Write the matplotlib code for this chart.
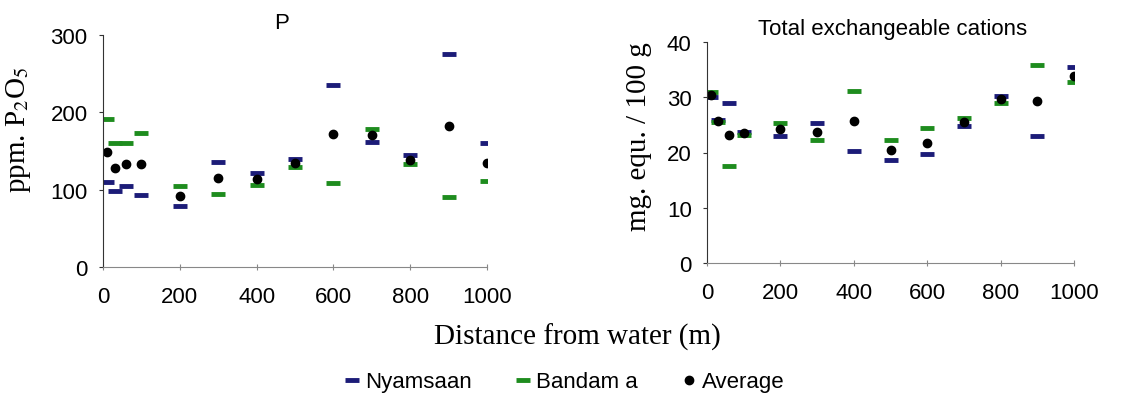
import numpy as np
import matplotlib.pyplot as plt

plt.rcParams['font.family'] = ['Liberation Sans', 'DejaVu Sans']

# distance from water (m)
dist = [10, 30, 60, 100, 200, 300, 400, 500, 600, 700, 800, 900, 1000]

# P (ppm P2O5)
p_nyam = [110, 98, 105, 93, 79, 136, 122, 140, 235, 162, 145, 276, 160]
p_band = [192, 160, 160, 173, 105, 95, 106, 129, 108, 179, 133, 90, 111]
p_avg = [149, 128, 133, 133, 92, 115, 114, 135, 172, 171, 139, 182, 134]

# total exchangeable cations (mg equ / 100 g)
c_nyam = [30.0, 25.8, 29.0, 23.7, 22.9, 25.4, 20.2, 18.7, 19.8, 24.8, 30.3, 23.0, 35.5]
c_band = [31.0, 25.6, 17.6, 23.2, 25.4, 22.3, 31.2, 22.3, 24.4, 26.3, 28.9, 35.8, 32.7]
c_avg = [30.4, 25.7, 23.2, 23.5, 24.2, 23.7, 25.7, 20.5, 21.8, 25.6, 29.6, 29.3, 33.9]

blue = '#1c1c78'
green = '#1e8c1e'

fig = plt.figure(figsize=(11.35, 4.06), dpi=100)
W, H = 1135, 406
ax1 = fig.add_axes([103 / W, 1 - 268 / H, 384 / W, 232 / H])
ax2 = fig.add_axes([707 / W, 1 - 264 / H, 367 / W, 221 / H])

def draw(ax, ny, bd, av):
    ax.plot(dist, ny, ls='none', marker='_', ms=10.5, mew=3.5, color=blue, label='Nyamsaan')
    ax.plot(dist, bd, ls='none', marker='_', ms=10.5, mew=3.5, color=green, label='Bandam a')
    ax.plot(dist, av, ls='none', marker='o', ms=6, color='black', label='Average')
    for s in ['top', 'right']:
        ax.spines[s].set_visible(False)
    ax.spines['left'].set_color('#333333')
    ax.spines['bottom'].set_color('#888888')
    ax.set_xlim(0, 1000)
    ax.set_xticks([0, 200, 400, 600, 800, 1000])
    ax.tick_params(axis='x', direction='inout', length=5, pad=11, labelsize=16, color='#888888')
    ax.tick_params(axis='y', direction='out', length=3, pad=8, labelsize=16, color='#333333')

draw(ax1, p_nyam, p_band, p_avg)
ax1.set_ylim(0, 300)
ax1.set_yticks([0, 100, 200, 300])
ax1.set_ylabel('ppm. P$_2$O$_5$', family='Liberation Serif', fontsize=21, math_fontfamily='stix')
ax1.yaxis.set_label_coords(-0.182, 0.595)
ax1.text(0.466, 1.032, 'P', transform=ax1.transAxes, ha='center', fontsize=16)

draw(ax2, c_nyam, c_band, c_avg)
ax2.set_ylim(0, 40)
ax2.set_yticks([0, 10, 20, 30, 40])
ax2.set_ylabel('mg. equ. / 100 g', family='Liberation Serif', fontsize=21)
ax2.yaxis.set_label_coords(-0.15, 0.575)
ax2.text(0.505, 1.036, 'Total exchangeable cations', transform=ax2.transAxes, ha='center', fontsize=16)

fig.text(577 / W, 1 - 337 / H, 'Distance from water (m)', family='Liberation Serif',
         fontsize=21, ha='center', va='center')

handles, labels = ax1.get_legend_handles_labels()
fig.legend(handles, labels, loc='center', bbox_to_anchor=(565 / W, 1 - 383 / H), ncol=3,
           frameon=False, fontsize=16, handlelength=0.6, handletextpad=0.3, columnspacing=2.0)

fig.savefig('out.png', dpi=100)
